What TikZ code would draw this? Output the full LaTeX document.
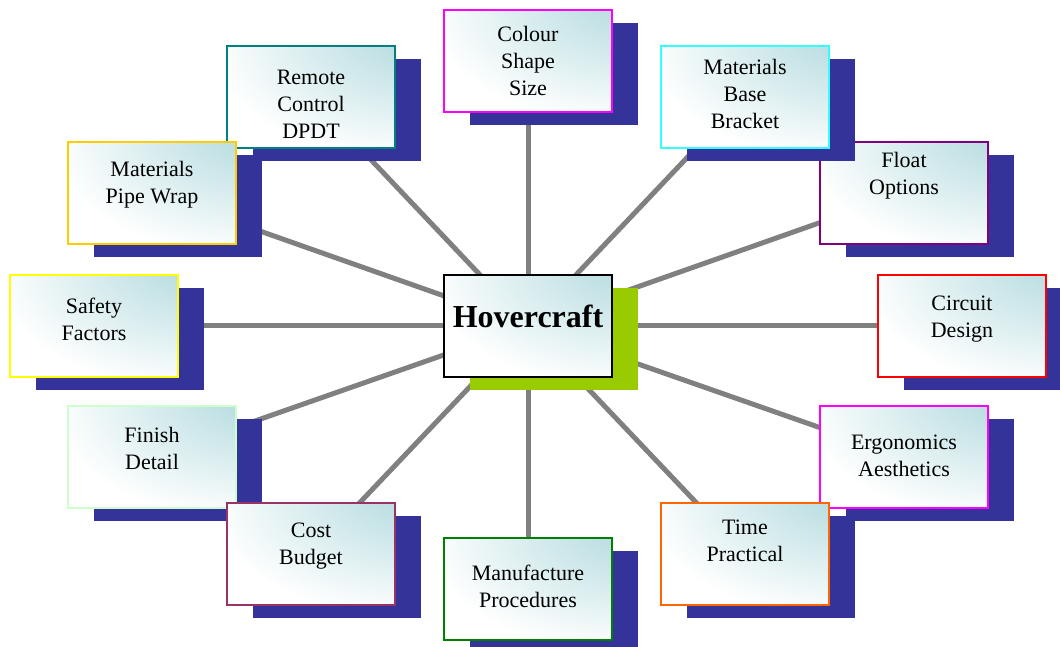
\documentclass[tikz,border=0pt]{standalone}
\usepackage{fontspec}
\setmainfont{Liberation Serif}
\usetikzlibrary{shadows,backgrounds}

\definecolor{navyshade}{RGB}{51,51,153}
\definecolor{limeshade}{RGB}{153,204,0}
\definecolor{glow}{RGB}{178,218,222}
\definecolor{spokegray}{RGB}{128,128,128}
\definecolor{pinkline}{RGB}{255,0,255}
\definecolor{tealline}{RGB}{0,128,128}
\definecolor{cyanline}{RGB}{51,255,255}
\definecolor{goldline}{RGB}{255,204,0}
\definecolor{purpleline}{RGB}{128,0,128}
\definecolor{yellowline}{RGB}{255,255,0}
\definecolor{redline}{RGB}{255,0,0}
\definecolor{mintline}{RGB}{204,255,204}
\definecolor{plumline}{RGB}{153,51,102}
\definecolor{orangeline}{RGB}{255,102,0}
\definecolor{greenline}{RGB}{0,128,0}

\pgfdeclareradialshading{cornerglow}{\pgfpoint{40bp}{40bp}}{color(0bp)=(glow); color(10bp)=(glow); color(55bp)=(white); color(150bp)=(white)}

\tikzset{
  topic/.style={rectangle, shading=cornerglow, line width=2pt, inner sep=0pt,
    minimum width=168pt, minimum height=102pt,
    general shadow={fill=navyshade, shadow xshift=26pt, shadow yshift=-13pt}},
  hubbox/.style={topic, draw=black,
    general shadow={fill=limeshade, shadow xshift=26pt, shadow yshift=-13pt}},
  topictext/.style={align=center, font=\rmfamily\fontsize{22}{27}\selectfont},
  spoke/.style={draw=spokegray, line width=5pt}
}

\begin{document}
\begin{tikzpicture}[x=1pt, y=-1pt]
	\useasboundingbox (0,0) rectangle (1060,646);

	% centre of the map
	\node[hubbox, label={[font=\rmfamily\fontsize{32}{38}\selectfont\bfseries, yshift=9pt]center:Hovercraft}] (hub) at (528,325.5) {};

	% topics round the centre
	\node[topic, draw=pinkline, label={[topictext]center:Colour\\Shape\\Size}] (colour) at (528,61) {};
	\node[topic, draw=tealline, label={[topictext, yshift=-8pt]center:Remote\\Control\\DPDT}] (remote) at (311,96.5) {};
	\node[topic, draw=purpleline, label={[topictext, yshift=17pt]center:Float\\Options}] (float) at (904,193) {};
	\node[topic, draw=cyanline, label={[topictext, yshift=3pt]center:Materials\\Base\\Bracket}] (bracket) at (745,96.5) {};
	\node[topic, draw=goldline, label={[topictext, yshift=8pt]center:Materials\\Pipe Wrap}] (pipewrap) at (152,193) {};
	\node[topic, draw=yellowline, label={[topictext, yshift=6pt]center:Safety\\Factors}] (safety) at (94,325.5) {};
	\node[topic, draw=redline, label={[topictext, yshift=6pt]center:Circuit\\Design}] (circuit) at (962,325.5) {};
	\node[topic, draw=mintline, label={[topictext, yshift=9pt]center:Finish\\Detail}] (finish) at (152,457) {};
	\node[topic, draw=pinkline, label={[topictext, yshift=1pt]center:Ergonomics\\Aesthetics}] (ergonomics) at (904,457) {};
	\node[topic, draw=plumline, label={[topictext, yshift=8pt]center:Cost\\Budget}] (cost) at (311,554) {};
	\node[topic, draw=orangeline, label={[topictext, yshift=13pt]center:Time\\Practical}] (time) at (745,554) {};
	\node[topic, draw=greenline, label={[topictext, yshift=3pt]center:Manufacture\\Procedures}] (manufacture) at (528,589) {};

	% spokes behind the boxes
	\begin{scope}[on background layer]
		\foreach \t in {colour,remote,float,bracket,pipewrap,safety,circuit,finish,ergonomics,cost,time,manufacture}
			\draw[spoke] (hub.center) -- (\t.center);
	\end{scope}

\end{tikzpicture}
\end{document}
